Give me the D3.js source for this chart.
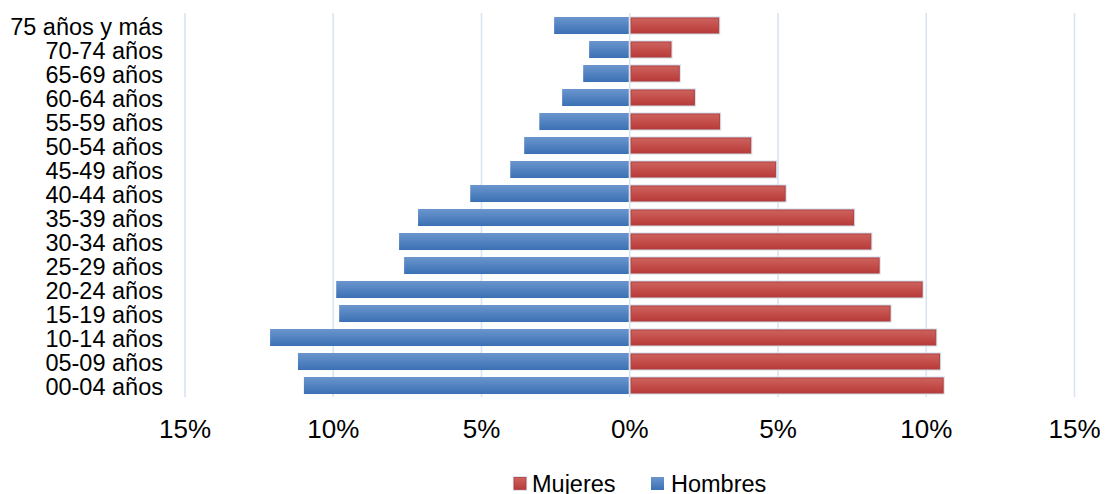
<!DOCTYPE html>
<html>
<head>
<meta charset="utf-8">
<script src="https://cdn.jsdelivr.net/npm/d3@7"></script>
<style>
  html, body { margin: 0; padding: 0; background: #fff; }
  svg { display: block; font-family: "Liberation Sans", Arial, sans-serif; }
</style>
</head>
<body>
<svg id="chart" width="1105" height="494"></svg>
<script>
const categories = ["75 años y más","70-74 años","65-69 años","60-64 años","55-59 años","50-54 años","45-49 años","40-44 años","35-39 años","30-34 años","25-29 años","20-24 años","15-19 años","10-14 años","05-09 años","00-04 años"];
const hombres = [2.55, 1.37, 1.57, 2.28, 3.05, 3.56, 4.03, 5.38, 7.14, 7.78, 7.61, 9.90, 9.80, 12.13, 11.19, 10.99];
const mujeres = [3.00, 1.39, 1.67, 2.18, 3.03, 4.08, 4.92, 5.24, 7.55, 8.13, 8.41, 9.86, 8.78, 10.32, 10.45, 10.57];
const xTicks = [-15, -10, -5, 0, 5, 10, 15];
const seriesNames = ["Mujeres", "Hombres"];

const svg = d3.select("#chart");
const defs = svg.append("defs");

const gBlue = defs.append("linearGradient").attr("id","gBlue").attr("x1",0).attr("y1",0).attr("x2",0).attr("y2",1);
gBlue.append("stop").attr("offset","0%").attr("stop-color","#6b95cd");
gBlue.append("stop").attr("offset","100%").attr("stop-color","#3a71b4");
const gRed = defs.append("linearGradient").attr("id","gRed").attr("x1",0).attr("y1",0).attr("x2",0).attr("y2",1);
gRed.append("stop").attr("offset","0%").attr("stop-color","#cd625e");
gRed.append("stop").attr("offset","100%").attr("stop-color","#b93b38");

const x = d3.scaleLinear().domain([-15, 15]).range([185, 1074.5]);
const y = d3.scaleBand().domain(categories).range([13.5, 397.5]).paddingInner(0.29).paddingOuter(0.145);

// gridlines
svg.append("g").selectAll("line").data(xTicks).join("line")
  .attr("x1", d => x(d)).attr("x2", d => x(d))
  .attr("y1", 13).attr("y2", 397)
  .attr("stroke", "#d9e3f1").attr("stroke-width", 1.6);

// hombres (negative side)
svg.append("g").selectAll("rect").data(categories).join("rect")
  .attr("x", (d,i) => x(-hombres[i]))
  .attr("width", (d,i) => x(0) - 1 - x(-hombres[i]))
  .attr("y", d => y(d))
  .attr("height", y.bandwidth())
  .attr("fill", "url(#gBlue)");

// mujeres glow + bars
const gm = svg.append("g");
gm.selectAll("rect.glow").data(categories).join("rect").attr("class","glow")
  .attr("x", x(0) + 1.3)
  .attr("width", (d,i) => x(mujeres[i]) - x(0) - 1.3)
  .attr("y", d => y(d) + 1)
  .attr("height", y.bandwidth() - 2)
  .attr("fill", "none").attr("stroke", "#d6e0ee").attr("stroke-width", 3.2);
gm.selectAll("rect.bar").data(categories).join("rect").attr("class","bar")
  .attr("x", x(0) + 1.3)
  .attr("width", (d,i) => x(mujeres[i]) - x(0) - 1.3)
  .attr("y", d => y(d) + 1)
  .attr("height", y.bandwidth() - 2)
  .attr("fill", "url(#gRed)").attr("stroke", "#b0403d").attr("stroke-width", 1);

// y labels
svg.append("g").selectAll("text").data(categories).join("text")
  .attr("x", 163)
  .attr("y", d => y(d) + y.bandwidth()/2 + 1)
  .attr("dy", "0.35em")
  .attr("text-anchor", "end")
  .attr("font-size", 23.5)
  .attr("fill", "#000")
  .text(d => d);

// x tick labels
svg.append("g").selectAll("text").data(xTicks).join("text")
  .attr("x", d => x(d))
  .attr("y", 438)
  .attr("text-anchor", "middle")
  .attr("font-size", 26)
  .attr("fill", "#000")
  .text(d => Math.abs(d) + "%");

// legend
const leg = svg.append("g");
const legItems = [
  {name: seriesNames[0], sx: 514, tx: 532, fill: "url(#gRed)", glow: true},
  {name: seriesNames[1], sx: 651, tx: 671, fill: "url(#gBlue)", glow: false}
];
legItems.forEach(it => {
  if (it.glow) {
    leg.append("rect").attr("x", it.sx).attr("y", 477.5).attr("width", 12).attr("height", 12)
      .attr("fill", "none").attr("stroke", "#d6e0ee").attr("stroke-width", 2.5);
    leg.append("rect").attr("x", it.sx).attr("y", 477.5).attr("width", 12).attr("height", 12)
      .attr("fill", it.fill).attr("stroke", "#b0403d").attr("stroke-width", 0.8);
  } else {
    leg.append("rect").attr("x", it.sx).attr("y", 477).attr("width", 13).attr("height", 13)
      .attr("fill", it.fill);
  }
  leg.append("text").attr("x", it.tx).attr("y", 491.5).attr("font-size", 23.5).attr("fill", "#000").text(it.name);
});
</script>
</body>
</html>
